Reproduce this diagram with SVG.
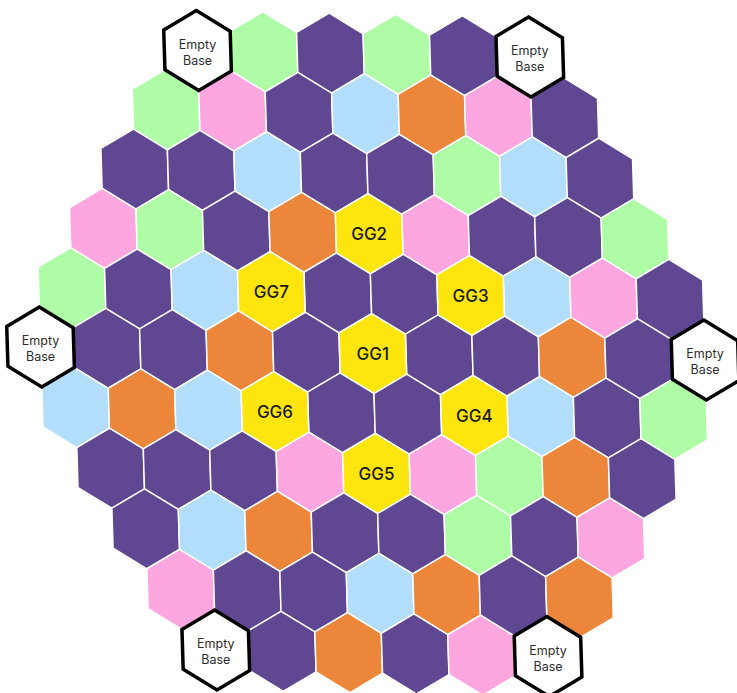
<svg xmlns="http://www.w3.org/2000/svg" xmlns:xlink="http://www.w3.org/1999/xlink" width="737" height="693" viewBox="0 0 737 693">
<defs>
<polygon id="h" points="-1.22,-39.97 32.62,-19.33 33.83,20.63 1.22,39.97 -32.62,19.33 -33.83,-20.63"/>
</defs>
<style>
use{stroke:#ffffff;stroke-width:1.5;stroke-linejoin:round}
.p{fill:#5f4792}
.g{fill:#aefca6}
.k{fill:#fda6e0}
.b{fill:#b3defb}
.o{fill:#ec863a}
.y{fill:#fee50e}
use.e{fill:#ffffff;stroke:#000000;stroke-width:3.5;stroke-linejoin:miter}
.gg{font-family:Inter,"Liberation Sans",sans-serif;font-size:17px;font-weight:500;fill:#1a1a1a;text-anchor:middle}
.eb{font-family:Inter,"Liberation Sans",sans-serif;font-size:12.5px;fill:#2e2e2e;text-anchor:middle}
</style>
<rect width="737" height="693" fill="#ffffff"/>
<g id="cells">
<use href="#h" class="g" x="264.0" y="51.8"/>
<use href="#h" class="p" x="330.45" y="53.1"/>
<use href="#h" class="g" x="396.9" y="54.4"/>
<use href="#h" class="p" x="463.35" y="55.7"/>
<use href="#h" class="g" x="166.15" y="109.8"/>
<use href="#h" class="k" x="232.6" y="111.1"/>
<use href="#h" class="p" x="299.05" y="112.4"/>
<use href="#h" class="b" x="365.5" y="113.7"/>
<use href="#h" class="o" x="431.95" y="115.0"/>
<use href="#h" class="k" x="498.4" y="116.3"/>
<use href="#h" class="p" x="564.85" y="117.6"/>
<use href="#h" class="p" x="134.75" y="169.1"/>
<use href="#h" class="p" x="201.2" y="170.4"/>
<use href="#h" class="b" x="267.65" y="171.7"/>
<use href="#h" class="p" x="334.1" y="173.0"/>
<use href="#h" class="p" x="400.55" y="174.3"/>
<use href="#h" class="g" x="467.0" y="175.6"/>
<use href="#h" class="b" x="533.45" y="176.9"/>
<use href="#h" class="p" x="599.9" y="178.2"/>
<use href="#h" class="k" x="103.35" y="228.4"/>
<use href="#h" class="g" x="169.8" y="229.7"/>
<use href="#h" class="p" x="236.25" y="231.0"/>
<use href="#h" class="o" x="302.7" y="232.3"/>
<use href="#h" class="k" x="435.6" y="234.9"/>
<use href="#h" class="p" x="502.05" y="236.2"/>
<use href="#h" class="p" x="568.5" y="237.5"/>
<use href="#h" class="g" x="634.95" y="238.8"/>
<use href="#h" class="g" x="71.95" y="287.7"/>
<use href="#h" class="p" x="138.4" y="289.0"/>
<use href="#h" class="b" x="204.85" y="290.3"/>
<use href="#h" class="p" x="337.75" y="292.9"/>
<use href="#h" class="p" x="404.2" y="294.2"/>
<use href="#h" class="b" x="537.1" y="296.8"/>
<use href="#h" class="k" x="603.55" y="298.1"/>
<use href="#h" class="p" x="670.0" y="299.4"/>
<use href="#h" class="p" x="107.0" y="348.3"/>
<use href="#h" class="p" x="173.45" y="349.6"/>
<use href="#h" class="o" x="239.9" y="350.9"/>
<use href="#h" class="p" x="306.35" y="352.2"/>
<use href="#h" class="p" x="439.25" y="354.8"/>
<use href="#h" class="p" x="505.7" y="356.1"/>
<use href="#h" class="o" x="572.15" y="357.4"/>
<use href="#h" class="p" x="638.6" y="358.7"/>
<use href="#h" class="b" x="75.6" y="407.6"/>
<use href="#h" class="o" x="142.05" y="408.9"/>
<use href="#h" class="b" x="208.5" y="410.2"/>
<use href="#h" class="p" x="341.4" y="412.8"/>
<use href="#h" class="p" x="407.85" y="414.1"/>
<use href="#h" class="b" x="540.75" y="416.7"/>
<use href="#h" class="p" x="607.2" y="418.0"/>
<use href="#h" class="g" x="673.65" y="419.3"/>
<use href="#h" class="p" x="110.65" y="468.2"/>
<use href="#h" class="p" x="177.1" y="469.5"/>
<use href="#h" class="p" x="243.55" y="470.8"/>
<use href="#h" class="k" x="310.0" y="472.1"/>
<use href="#h" class="k" x="442.9" y="474.7"/>
<use href="#h" class="g" x="509.35" y="476.0"/>
<use href="#h" class="o" x="575.8" y="477.3"/>
<use href="#h" class="p" x="642.25" y="478.6"/>
<use href="#h" class="p" x="145.7" y="528.8"/>
<use href="#h" class="b" x="212.15" y="530.1"/>
<use href="#h" class="o" x="278.6" y="531.4"/>
<use href="#h" class="p" x="345.05" y="532.7"/>
<use href="#h" class="p" x="411.5" y="534.0"/>
<use href="#h" class="g" x="477.95" y="535.3"/>
<use href="#h" class="p" x="544.4" y="536.6"/>
<use href="#h" class="k" x="610.85" y="537.9"/>
<use href="#h" class="k" x="180.75" y="589.4"/>
<use href="#h" class="p" x="247.2" y="590.7"/>
<use href="#h" class="p" x="313.65" y="592.0"/>
<use href="#h" class="b" x="380.1" y="593.3"/>
<use href="#h" class="o" x="446.55" y="594.6"/>
<use href="#h" class="p" x="513.0" y="595.9"/>
<use href="#h" class="o" x="579.45" y="597.2"/>
<use href="#h" class="p" x="282.25" y="651.3"/>
<use href="#h" class="o" x="348.7" y="652.6"/>
<use href="#h" class="p" x="415.15" y="653.9"/>
<use href="#h" class="k" x="481.6" y="655.2"/>
</g>
<g id="GG1"><use href="#h" class="y" x="372.8" y="353.5"/><text class="gg" x="372.8" y="360">GG1</text></g>
<g id="GG2"><use href="#h" class="y" x="369.15" y="233.6"/><text class="gg" x="369.15" y="240.1">GG2</text></g>
<g id="GG3"><use href="#h" class="y" x="470.65" y="295.5"/><text class="gg" x="470.65" y="302">GG3</text></g>
<g id="GG4"><use href="#h" class="y" x="474.3" y="415.4"/><text class="gg" x="474.3" y="421.9">GG4</text></g>
<g id="GG5"><use href="#h" class="y" x="376.45" y="473.4"/><text class="gg" x="376.45" y="479.9">GG5</text></g>
<g id="GG6"><use href="#h" class="y" x="274.95" y="411.5"/><text class="gg" x="274.95" y="418">GG6</text></g>
<g id="GG7"><use href="#h" class="y" x="271.3" y="291.6"/><text class="gg" x="271.3" y="298.1">GG7</text></g>
<g id="base-top-left"><use href="#h" class="e" x="197.55" y="50.5"/><text class="eb" x="197.55" y="48.5">Empty</text><text class="eb" x="197.55" y="64.5">Base</text></g>
<g id="base-top-right"><use href="#h" class="e" x="529.8" y="57.0"/><text class="eb" x="529.8" y="55">Empty</text><text class="eb" x="529.8" y="71">Base</text></g>
<g id="base-left"><use href="#h" class="e" x="40.55" y="347.0"/><text class="eb" x="40.55" y="345">Empty</text><text class="eb" x="40.55" y="361">Base</text></g>
<g id="base-right"><use href="#h" class="e" x="705.05" y="360.0"/><text class="eb" x="705.05" y="358">Empty</text><text class="eb" x="705.05" y="374">Base</text></g>
<g id="base-bottom-left"><use href="#h" class="e" x="215.8" y="650.0"/><text class="eb" x="215.8" y="648">Empty</text><text class="eb" x="215.8" y="664">Base</text></g>
<g id="base-bottom-right"><use href="#h" class="e" x="548.05" y="656.5"/><text class="eb" x="548.05" y="654.5">Empty</text><text class="eb" x="548.05" y="670.5">Base</text></g>
</svg>
